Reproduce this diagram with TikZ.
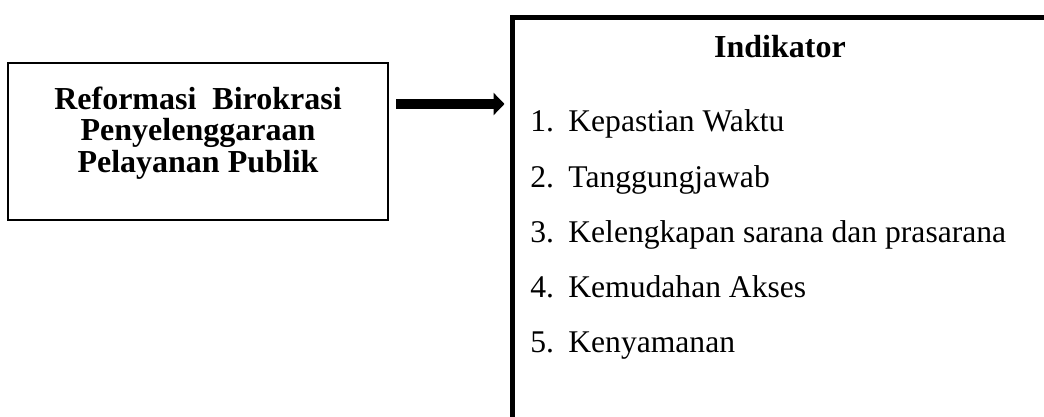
\documentclass[tikz,border=0pt]{standalone}
\usepackage{fontspec}
\setmainfont{Liberation Serif}
\usetikzlibrary{arrows.meta}

\tikzset{
    boxthin/.style = {draw, line width = 0.65pt, minimum width = 190pt, minimum height = 78.5pt, inner sep = 0pt},
    boxthick/.style = {draw, line width = 2.5pt, minimum width = 300pt, minimum height = 230pt, inner sep = 0pt},
    bigarrow/.style = {line width = 5pt, -{Triangle[length = 5.5pt, width = 11pt]}},
    itemtext/.style = {anchor = base west, inner sep = 0pt, font = \fontsize{15.8}{18}\selectfont}
}

\begin{document}
\begin{tikzpicture}[x = 0.5pt, y = -0.5pt]
    \useasboundingbox (0, 0) rectangle (1044, 417);
    \clip (0, 0) rectangle (1044, 417);

    %% left box
    \node[boxthin] (reform) at (198, 141.5) {};
    \node[align = center, inner sep = 0pt, font = \bfseries\fontsize{16}{15.75}\selectfont]
        (reftext) at (198, 133) {Reformasi~ Birokrasi\\Penyelenggaraan\\Pelayanan Publik};

    %% right box, runs off the page
    \node[boxthick, anchor = north west] (indik) at (509.5, 15.5) {};
    \node[inner sep = 0pt, anchor = base, font = \bfseries\fontsize{16}{18}\selectfont]
        (title) at (780, 58) {Indikator};

    \foreach \t [count = \i] in {Kepastian Waktu, Tanggungjawab,
        Kelengkapan sarana dan prasarana, Kemudahan Akses, Kenyamanan}
        \node[itemtext] (item\i) at (530, 77 + 55*\i) {\makebox[19pt][l]{\i.}\t};

    %% arrow
    \draw[bigarrow] ([xshift = 3.7pt, yshift = 18.75pt]reform.east)
        -- ([xshift = -2.5pt, yshift = 18.75pt]reform.east -| indik.west);
\end{tikzpicture}
\end{document}
